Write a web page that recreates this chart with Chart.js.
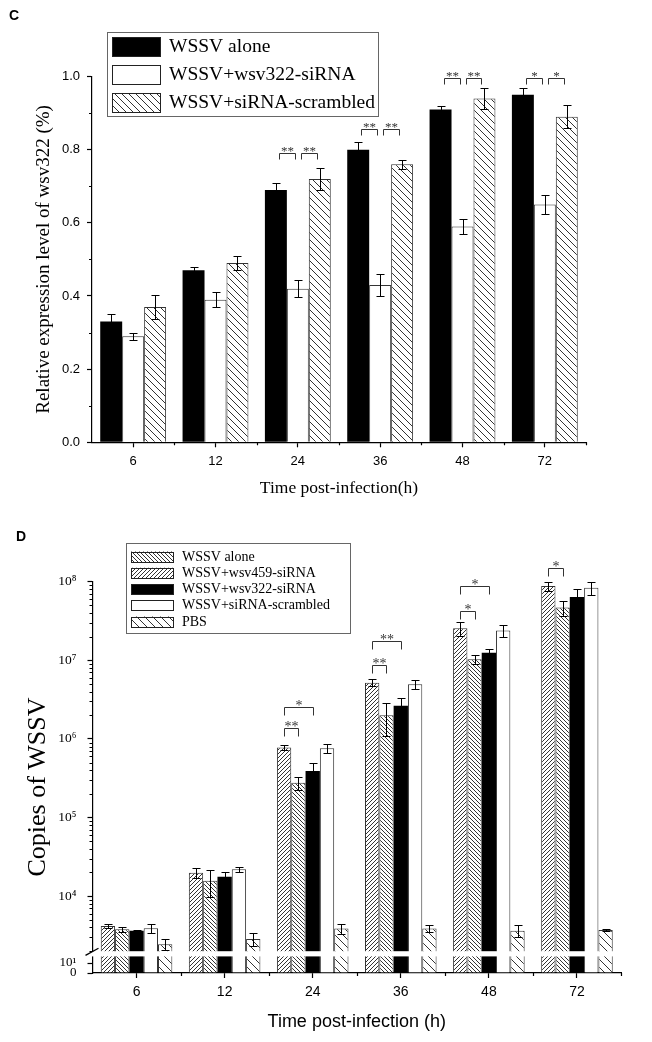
<!DOCTYPE html>
<html><head><meta charset="utf-8">
<script src="https://cdn.jsdelivr.net/npm/chart.js@4.4.1/dist/chart.umd.min.js"></script>
<style>
html,body{margin:0;padding:0;background:#fff;}
body{width:652px;height:1042px;position:relative;overflow:hidden;}
#cC{position:absolute;left:0;top:0;}
#cD{position:absolute;left:0;top:520px;}
.pl{position:absolute;font:bold 14px "Liberation Sans",Arial,sans-serif;color:#000;}
</style></head><body>
<canvas id="cC" width="652" height="520"></canvas>
<canvas id="cD" width="652" height="522"></canvas>
<div class="pl" style="left:9px;top:7px">C</div>
<div class="pl" style="left:16px;top:528px">D</div>
<script>
// ---------- Panel C data ----------
const timesC = ['6','12','24','36','48','72'];
const seriesC = ['WSSV alone','WSSV+wsv322-siRNA','WSSV+siRNA-scrambled'];
const wssvAloneC = [0.33,0.47,0.69,0.80,0.91,0.95];
const wsv322C    = [0.29,0.39,0.42,0.43,0.59,0.65];
const scrambledC = [0.37,0.49,0.72,0.76,0.94,0.89];
const wssvAloneErrC = [0.02,0.01,0.02,0.02,0.01,0.018];
const wsv322ErrC    = [0.01,0.02,0.024,0.03,0.02,0.026];
const scrambledErrC = [0.033,0.02,0.03,0.012,0.028,0.032];
const yTicksC = [0,0.2,0.4,0.6,0.8,1.0];
// [category index, from bar, to bar, bracket value, label]
const sigC = [[2,0,1,0.79,'**'],[2,1,2,0.79,'**'],[3,0,1,0.857,'**'],[3,1,2,0.857,'**'],
              [4,0,1,0.995,'**'],[4,1,2,0.995,'**'],[5,0,1,0.995,'*'],[5,1,2,0.995,'*']];

// ---------- Panel D data ----------
const timesD = ['6','12','24','36','48','72'];
const seriesD = ['WSSV alone','WSSV+wsv459-siRNA','WSSV+wsv322-siRNA','WSSV+siRNA-scrambled','PBS'];
const wssvAloneD = [4170,19800,7.8e5,5.2e6,2.55e7,8.8e7];
const wsv459D    = [3790,15700,2.77e5,2.0e6,1.03e7,4.7e7];
const wsv322D    = [3630,17600,3.9e5,2.65e6,1.25e7,6.4e7];
const scrambledD = [3890,21900,7.6e5,4.95e6,2.4e7,8.4e7];
const pbsD       = [2440,2850,3880,3880,3630,3700];
const wssvAloneErrD = [200,2700,5e4,5.5e5,5e6,1.2e7];
const wsv459ErrD    = [300,6000,5e4,9e5,1.4e6,1e7];
const wsv322ErrD    = [100,2800,1e5,6.5e5,1.3e6,1.7e7];
const scrambledErrD = [500,1500,9e4,6.5e5,4e6,1.6e7];
const pbsErrD       = [380,500,580,360,600,80];
const yTicksD = [1e4,1e5,1e6,1e7,1e8];
const yTickLabelsD = ['10\u2074','10\u2075','10\u2076','10\u2077','10\u2078'];
const yLowTicksD = [0,10];
const yLowTickLabelsD = ['0','10\u00B9'];
const sigD = [[2,0,1,1.36e6,'**'],[2,0,2,2.57e6,'*'],[3,0,1,8.7e6,'**'],[3,0,2,1.78e7,'**'],
              [4,0,1,4.2e7,'*'],[4,0,2,8.7e7,'*'],[5,0,1,1.5e8,'*']];

// ---------- helpers ----------
const SERIF = '"Liberation Serif","Times New Roman",serif';
const SANS = '"Liberation Sans",Arial,sans-serif';
function hatch(ctx, dir, s, lw, color){
  const c=document.createElement('canvas'); c.width=s; c.height=s;
  const x=c.getContext('2d'); x.fillStyle='#fff'; x.fillRect(0,0,s,s);
  x.strokeStyle=color; x.lineWidth=lw; x.beginPath();
  for(let i=-1;i<=1;i++){
    if(dir==='\\'){ x.moveTo(i*s,0); x.lineTo(i*s+s,s); }
    else { x.moveTo(i*s,s); x.lineTo(i*s+s,0); }
  }
  x.stroke();
  return ctx.createPattern(c,'repeat');
}
const errorBars = {id:'errorBars', afterDatasetsDraw(chart,args,o){
  const ctx=chart.ctx; ctx.save(); ctx.strokeStyle='#000'; ctx.lineWidth=1;
  chart.data.datasets.forEach((ds,i)=>{
    if(!ds.errors) return;
    const meta=chart.getDatasetMeta(i); const sc=chart.scales[meta.yAxisID];
    meta.data.forEach((el,j)=>{
      const v=ds.data[j], e=ds.errors[j];
      const yt=Math.round(sc.getPixelForValue(v+e))+0.5, yb=Math.round(sc.getPixelForValue(v-e))+0.5;
      const x=Math.round(el.x)+0.5, cw=o.cap;
      ctx.beginPath(); ctx.moveTo(x,yt); ctx.lineTo(x,yb);
      ctx.moveTo(x-cw,yt); ctx.lineTo(x+cw,yt);
      ctx.moveTo(x-cw,yb); ctx.lineTo(x+cw,yb); ctx.stroke();
    });
  });
  ctx.restore();
}};
const sigPlugin = {id:'sig', afterDatasetsDraw(chart,args,o){
  const ctx=chart.ctx; ctx.save(); ctx.strokeStyle='#333'; ctx.lineWidth=1; ctx.fillStyle='#333';
  ctx.font=o.font; ctx.textAlign='center'; ctx.textBaseline='alphabetic';
  const sc=chart.scales[o.axis];
  o.items.forEach(([cat,a,b,val,lab])=>{
    const xa=Math.round(chart.getDatasetMeta(a).data[cat].x+o.inset)+0.5;
    const xb=Math.round(chart.getDatasetMeta(b).data[cat].x-o.inset)+0.5;
    const y=Math.round(sc.getPixelForValue(val))+0.5;
    ctx.beginPath(); ctx.moveTo(xa,y+o.leg); ctx.lineTo(xa,y); ctx.lineTo(xb,y); ctx.lineTo(xb,y+o.leg); ctx.stroke();
    ctx.fillText(lab,(xa+xb)/2,y+o.dy);
  });
  ctx.restore();
}};
const boxLegend = {id:'boxLegend', afterDraw(chart,args,o){
  const ctx=chart.ctx; ctx.save();
  ctx.strokeStyle='#666'; ctx.lineWidth=1; ctx.strokeRect(o.x+.5,o.y+.5,o.w,o.h);
  o.labels.forEach((lab,i)=>{
    const cy=o.y0+i*o.dy;
    ctx.fillStyle=o.fills[i]; ctx.fillRect(o.sx,cy-o.sh/2,o.sw,o.sh);
    ctx.strokeStyle='#222'; ctx.strokeRect(o.sx+.5,Math.round(cy-o.sh/2)+.5,o.sw-1,o.sh-1);
    ctx.fillStyle='#000'; ctx.font=o.font; ctx.textBaseline='middle'; ctx.textAlign='left';
    ctx.fillText(lab,o.tx,cy);
  });
  ctx.restore();
}};
const minorTicks = {id:'minorTicks', afterDraw(chart,args,o){
  const ctx=chart.ctx; ctx.save(); ctx.strokeStyle='#000'; ctx.lineWidth=1.2;
  const xs=chart.scales.x, ca=chart.chartArea;
  const n=xs.ticks.length, w=(ca.right-ca.left)/n;
  ctx.beginPath();
  for(let i=1;i<=n;i++){ const x=Math.round(ca.left+i*w)+0.5; ctx.moveTo(x,ca.bottom); ctx.lineTo(x,ca.bottom+o.xLen); }
  const ys=chart.scales[o.yAxis];
  o.yMinor.forEach(v=>{ if(v<ys.min||v>ys.max) return; const y=Math.round(ys.getPixelForValue(v))+0.5; ctx.moveTo(ys.right-3,y); ctx.lineTo(ys.right,y); });
  ctx.stroke(); ctx.restore();
}};
const axisBreak = {id:'axisBreak', afterDatasetsDraw(chart,args,o){
  const ctx=chart.ctx, ca=chart.chartArea; ctx.save();
  ctx.fillStyle='#fff'; ctx.fillRect(ca.left-4,o.y1,ca.right-ca.left+6,o.y2-o.y1);
  ctx.strokeStyle='#000'; ctx.lineWidth=1.3; ctx.beginPath();
  ctx.moveTo(ca.left-7,o.y2-1); ctx.lineTo(ca.left+6,o.y1-3); ctx.stroke();
  ctx.restore();
}};

// ---------- Panel C ----------
const ctxC=document.getElementById('cC').getContext('2d');
const hatchC=hatch(ctxC,'\\',7,1,'#333');
const yMinorC=[0.1,0.3,0.5,0.7,0.9];
new Chart(ctxC,{
  type:'bar',
  data:{labels:timesC,datasets:[
    {label:seriesC[0],data:wssvAloneC,errors:wssvAloneErrC,backgroundColor:'#000',borderColor:'#000',borderWidth:0},
    {label:seriesC[1],data:wsv322C,errors:wsv322ErrC,backgroundColor:'#fff',borderColor:'#333',borderWidth:1},
    {label:seriesC[2],data:scrambledC,errors:scrambledErrC,backgroundColor:hatchC,borderColor:'#333',borderWidth:1}
  ]},
  options:{
    responsive:false, animation:false, devicePixelRatio:1,
    layout:{padding:{left:0,right:66,top:76.5,bottom:0}},
    datasets:{bar:{categoryPercentage:0.8,barPercentage:1.0}},
    plugins:{legend:{display:false},tooltip:{enabled:false},
      errorBars:{cap:4},
      sig:{items:sigC,axis:'y',inset:3,leg:6,dy:1,font:'13px '+SERIF},
      boxLegend:{x:107,y:32,w:271,h:84,y0:47,dy:28,sx:112,sw:49,sh:20,tx:169,labels:seriesC,
        fills:['#000','#fff',hatchC],font:'19.5px '+SERIF},
      minorTicks:{xLen:3,yAxis:'y',yMinor:yMinorC}
    },
    scales:{
      x:{offset:true,grid:{display:true,drawOnChartArea:false,offset:false,tickLength:5,tickWidth:1.2,tickColor:'#000'},
         border:{display:true,color:'#000',width:1.2},
         ticks:{color:'#000',font:{family:SANS,size:13},padding:6},
         title:{display:true,text:'Time post-infection(h)',color:'#000',font:{family:SERIF,size:17.5},padding:{top:0,bottom:21.5}},
         afterFit:s=>{s.height=77.7;}},
      y:{min:0,max:1,
         afterBuildTicks:s=>{s.ticks=yTicksC.map(v=>({value:v}));},
         ticks:{color:'#000',font:{family:SANS,size:13},padding:7,callback:v=>Number(v).toFixed(1)},
         grid:{display:true,drawOnChartArea:false,tickLength:5,tickWidth:1.2,tickColor:'#000'},
         border:{display:true,color:'#000',width:1.2},
         title:{display:true,text:'Relative expression level of wsv322 (%)',color:'#000',font:{family:SERIF,size:19},padding:{top:33,bottom:0}},
         afterFit:s=>{s.width=92;}}
    }
  },
  plugins:[errorBars,sigPlugin,boxLegend,minorTicks]
});

// ---------- Panel D ----------
const ctxD=document.getElementById('cD').getContext('2d');
const hFwd=hatch(ctxD,'/',4,1,'#333');
const hBack=hatch(ctxD,'\\',4,1,'#333');
const hPbs=hatch(ctxD,'\\',8,1,'#333');
const LOW_MAX=18.8;
const yMinorD=[];
for(let e=3;e<=7;e++){for(let m=2;m<=9;m++){yMinorD.push(m*Math.pow(10,e));}}
const styleD=[
  {backgroundColor:hFwd,borderColor:'#333',borderWidth:1},
  {backgroundColor:hBack,borderColor:'#333',borderWidth:1},
  {backgroundColor:'#000',borderColor:'#000',borderWidth:0},
  {backgroundColor:'#fff',borderColor:'#333',borderWidth:1},
  {backgroundColor:hPbs,borderColor:'#333',borderWidth:1}
];
const valsD=[wssvAloneD,wsv459D,wsv322D,scrambledD,pbsD];
const errsD=[wssvAloneErrD,wsv459ErrD,wsv322ErrD,scrambledErrD,pbsErrD];
const dsD=[];
valsD.forEach((vals,i)=>dsD.push(Object.assign({label:seriesD[i],data:vals,errors:errsD[i],yAxisID:'yUp',stack:'s'+i},styleD[i])));
valsD.forEach((vals,i)=>dsD.push(Object.assign({label:seriesD[i],data:vals.map(v=>Math.min(v,LOW_MAX)),yAxisID:'yLow',stack:'s'+i},styleD[i])));
new Chart(ctxD,{
  type:'bar',
  data:{labels:timesD,datasets:dsD},
  options:{
    responsive:false, animation:false, devicePixelRatio:1,
    layout:{padding:{left:0,right:31,top:61.7,bottom:0}},
    datasets:{bar:{categoryPercentage:0.8125,barPercentage:1.0}},
    plugins:{legend:{display:false},tooltip:{enabled:false},
      axisBreak:{y1:431.2,y2:436.4},
      errorBars:{cap:4},
      sig:{items:sigD,axis:'yUp',inset:0,leg:8,dy:2,font:'14px '+SERIF},
      boxLegend:{x:126,y:23,w:224,h:90,y0:37,dy:16.25,sx:131,sw:43,sh:11,tx:182,labels:seriesD,
        fills:[hBack,hFwd,'#000','#fff',hPbs],font:'14px '+SERIF},
      minorTicks:{xLen:3,yAxis:'yUp',yMinor:yMinorD}
    },
    scales:{
      x:{offset:true,grid:{display:true,drawOnChartArea:false,offset:false,tickLength:5,tickWidth:1.2,tickColor:'#000'},
         border:{display:true,color:'#000',width:1.2},
         ticks:{color:'#000',font:{family:SANS,size:14},padding:6},
         title:{display:true,text:'Time post-infection (h)',color:'#000',font:{family:SANS,size:18},padding:{top:0,bottom:9}},
         afterFit:s=>{s.height=69;}},
      yLow:{type:'linear',position:'left',stack:'yD',stackWeight:18.8,min:0,max:LOW_MAX,
         afterBuildTicks:s=>{s.ticks=yLowTicksD.map(v=>({value:v}));},
         ticks:{color:'#000',font:{family:SERIF,size:13},padding:11,autoSkip:false,callback:(v)=>{const k=yLowTicksD.indexOf(v);return k>=0?yLowTickLabelsD[k]:'';}},
         grid:{display:true,drawOnChartArea:false,tickLength:5,tickWidth:1.2,tickColor:'#000'},
         border:{display:true,color:'#000',width:1.2},
         afterFit:s=>{s.width=92.5;}},
      yUp:{type:'logarithmic',position:'left',stack:'yD',stackWeight:372.5,min:1824,max:1e8,
         afterBuildTicks:s=>{s.ticks=yTicksD.map(v=>({value:v}));},
         ticks:{color:'#000',font:{family:SERIF,size:13.5},padding:11,autoSkip:false,callback:(v)=>{const k=yTicksD.indexOf(v);return k>=0?yTickLabelsD[k]:'';}},
         grid:{display:true,drawOnChartArea:false,tickLength:5,tickWidth:1.2,tickColor:'#000'},
         border:{display:true,color:'#000',width:1.2},
         afterFit:s=>{s.width=92.5;}}
    }
  },
  plugins:[axisBreak,errorBars,sigPlugin,boxLegend,minorTicks,
    {id:'yTitleD',afterDraw(chart){const ctx=chart.ctx;ctx.save();ctx.translate(38,267);ctx.rotate(-Math.PI/2);
      ctx.font='26px '+SERIF;ctx.fillStyle='#000';ctx.textAlign='center';ctx.textBaseline='middle';
      ctx.fillText('Copies of WSSV',0,0);ctx.restore();}}]
});
</script>
</body></html>
